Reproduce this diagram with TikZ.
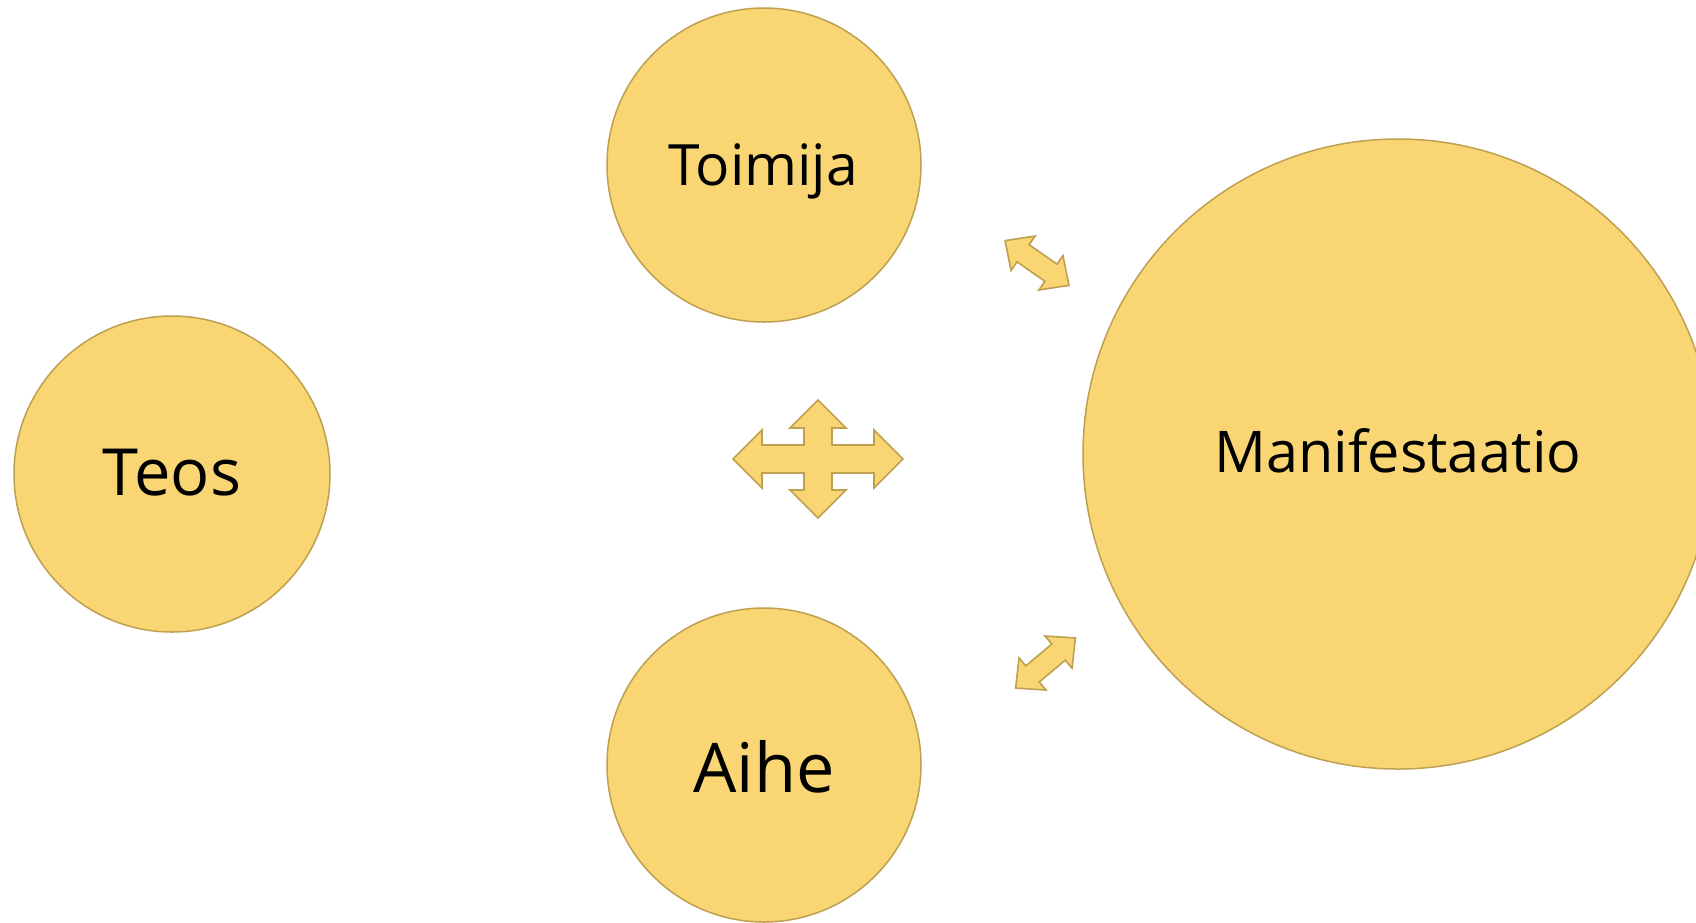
\documentclass[tikz,border=0pt]{standalone}
\usepackage{fontspec}
\setmainfont{Open Sans}
\definecolor{cfill}{RGB}{249,214,115}
\definecolor{cline}{RGB}{190,160,80}
\tikzset{
  bubble/.style={circle, fill=cfill, draw=cline, line width=1.5pt, inner sep=0pt},
  arrowshape/.style={fill=cfill, draw=cline, line width=1.6pt, line join=miter},
  lbl/.style={anchor=base, inner sep=0pt, text=black}
}
\begin{document}
\begin{tikzpicture}[x=1pt,y=-1pt]
\useasboundingbox (0,0) rectangle (1696,922);
\clip (0,0) rectangle (1696,922);
\fill[white] (0,0) rectangle (1696,922);
% circles
\node[bubble, minimum size=316pt] (teos) at (172,474) {};
\node[bubble, minimum size=314pt] (toimija) at (764,165) {};
\node[bubble, minimum size=314pt] (aihe) at (764,765) {};
\node[bubble, minimum size=630pt] (manif) at (1398,454) {};
% labels
\node[lbl, font=\fontsize{65}{65}\selectfont] (teosl) at (172,495) {Teos};
\node[lbl, font=\fontsize{57}{57}\selectfont] (toimijal) at (763,185) {Toimija};
\node[lbl, font=\fontsize{68.5}{68.5}\selectfont] (aihel) at (764,792) {Aihe};
\node[lbl, font=\fontsize{57.5}{57.5}\selectfont] (manifl) at (1398,472) {Manifestaatio};
% four-way arrow
\begin{scope}[shift={(818,459)}]
\draw[arrowshape] (-85,0) -- (-56,-29) -- (-56,-14) -- (-14,-14) -- (-14,-31) -- (-28,-31) -- (0,-59) -- (28,-31) -- (14,-31) -- (14,-14) -- (56,-14) -- (56,-29) -- (85,0) -- (56,29) -- (56,14) -- (14,14) -- (14,31) -- (28,31) -- (0,59) -- (-28,31) -- (-14,31) -- (-14,14) -- (-56,14) -- (-56,29) -- cycle;
\end{scope}
% double arrows
\begin{scope}[shift={(1037,263)}, rotate=-35]
\draw[arrowshape] (-39,0) -- (-17,-21) -- (-17,-10.5) -- (17,-10.5) -- (17,-21) -- (39,0) -- (17,21) -- (17,10.5) -- (-17,10.5) -- (-17,21) -- cycle;
\end{scope}
\begin{scope}[shift={(1045.5,663)}, rotate=40]
\draw[arrowshape] (-39,0) -- (-17,-21) -- (-17,-10.5) -- (17,-10.5) -- (17,-21) -- (39,0) -- (17,21) -- (17,10.5) -- (-17,10.5) -- (-17,21) -- cycle;
\end{scope}
\end{tikzpicture}
\end{document}
